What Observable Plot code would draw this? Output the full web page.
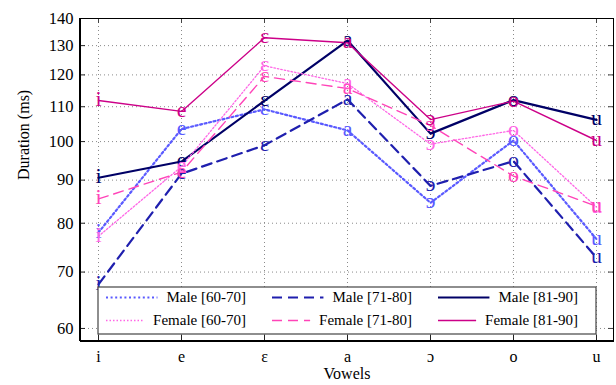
<!DOCTYPE html>
<html>
<head>
<meta charset="utf-8">
<script src="https://cdn.jsdelivr.net/npm/d3@7"></script>
<script src="https://cdn.jsdelivr.net/npm/@observablehq/plot@0.6"></script>
<style>
  html, body { margin: 0; padding: 0; background: white; }
  #chart { width: 616px; height: 385px; }
</style>
</head>
<body>
<div id="chart"></div>
<script>
const vowels = ["i", "e", "ɛ", "a", "ɔ", "o", "u"];
const yTicks = [60, 70, 80, 90, 100, 110, 120, 130, 140];

const seriesNames = ["Male [60-70]", "Male [71-80]", "Male [81-90]", "Female [60-70]", "Female [71-80]", "Female [81-90]"];
const male6070   = [78.0, 103.5, 109.2, 103.1, 84.6, 100.3, 76.6];
const male7180   = [67.7, 91.6, 99.0, 112.2, 88.6, 94.8, 72.8];
const male8190   = [90.6, 94.7, 111.8, 131.8, 102.2, 112.0, 106.1];
const female6070 = [77.2, 93.4, 123.0, 117.2, 99.3, 103.1, 83.6];
const female7180 = [85.5, 92.0, 119.5, 115.6, 104.5, 91.0, 83.8];
const female8190 = [111.9, 108.6, 132.8, 131.0, 106.2, 111.7, 100.3];
const seriesValues = [male6070, male7180, male8190, female6070, female7180, female8190];

// styles (separate from data)
const colors = ["#5a5aff", "#1f1fae", "#000066", "#ff66e6", "#ff44b8", "#cc0088"];
const widths = [2.2, 2.2, 2.2, 1.3, 1.4, 1.4];
const dashes = ["2,2.6", "10,6", null, "1.5,2", "10,6", null];

const rows = seriesNames.map((name, k) =>
  vowels.map((v, i) => ({series: name, vowel: v, value: seriesValues[k][i]}))
);

const W = 616, H = 385, mL = 80, mR = 3, mT = 18, mB = 44;
const pw = W - mL - mR, ph = H - mT - mB;
const font = "'Liberation Serif', 'Times New Roman', 'DejaVu Serif', serif";

const marks = [
  Plot.ruleY(yTicks, {y: d => d, stroke: "#8a8a8a", strokeDasharray: "1,3", strokeWidth: 1}),
  Plot.ruleX(vowels, {x: d => d, stroke: "#8a8a8a", strokeDasharray: "1,3", strokeWidth: 1}),
  // inward ticks
  Plot.tickY(yTicks, {y: d => d, insetRight: pw - 5, stroke: "#222"}),
  Plot.tickY(yTicks, {y: d => d, insetLeft: pw - 5, stroke: "#444"}),
  Plot.tickX(vowels, {x: d => d, insetTop: ph - 6, stroke: "#222"}),
  Plot.tickX(vowels, {x: d => d, insetBottom: ph - 5, stroke: "#444"}),
];
rows.forEach((r, k) => {
  marks.push(Plot.line(r, {
    x: "vowel", y: "value", stroke: colors[k], strokeWidth: widths[k],
    strokeDasharray: dashes[k] || undefined, curve: "linear"
  }));
});
rows.forEach((r, k) => {
  marks.push(Plot.text(r, {
    x: "vowel", y: "value", text: "vowel", fill: colors[k], fontSize: 22,
    fontFamily: font, dy: -1.5
  }));
});
marks.push(
  Plot.frame({stroke: "black", strokeWidth: 1}),
  Plot.axisX({tickSize: 0, tickPadding: 9, fontSize: 16, label: null}),
  Plot.axisY({ticks: yTicks, tickSize: 0, tickPadding: 7, fontSize: 16.5, tickFormat: d => String(d), label: null}),
  Plot.text(["Vowels"], {frameAnchor: "bottom", dy: 37, fontSize: 16, fontFamily: font, fill: "black"}),
  Plot.text(["Duration (ms)"], {frameAnchor: "left", dx: -57, rotate: -90, fontSize: 16, fontFamily: font, fill: "black"})
);

const plot = Plot.plot({
  width: W, height: H,
  marginLeft: mL, marginRight: mR, marginTop: mT, marginBottom: mB,
  x: {type: "point", domain: vowels, padding: 0.2},
  y: {type: "log", domain: [57.9, 140]},
  style: {fontFamily: font, fontSize: "16px", background: "white", color: "black"},
  marks
});
document.getElementById("chart").appendChild(plot);

const svg = d3.select(plot);
// thicker left and bottom axis lines
svg.append("line").attr("x1", mL).attr("x2", mL).attr("y1", mT).attr("y2", H - mB)
  .attr("stroke", "black").attr("stroke-width", 2);
svg.append("line").attr("x1", mL).attr("x2", W - mR).attr("y1", H - mB).attr("y2", H - mB)
  .attr("stroke", "black").attr("stroke-width", 2);

// legend inside the plot, positioned with the plot's own x scale
const xs = plot.scale("x");
const lx0 = xs.apply("i"), lx1 = xs.apply("u");
const lg = svg.append("g");
const lgTop = 287, lgBot = 334;
lg.append("rect").attr("x", lx0).attr("y", lgTop).attr("width", lx1 - lx0).attr("height", lgBot - lgTop)
  .attr("fill", "white").attr("stroke", "#444").attr("stroke-width", 1.2);
const colW = (lx1 - lx0) / 3;
seriesNames.forEach((name, k) => {
  const col = k % 3, row = Math.floor(k / 3);
  const cx = lx0 + col * colW;
  const cy = row === 0 ? 297.5 : 320.5;
  const t = lg.append("text").attr("x", cx + 148).attr("y", cy).attr("dy", "0.33em")
    .attr("text-anchor", "end").attr("font-family", font).attr("font-size", 15)
    .attr("fill", "black").text(name);
  const tw = t.node().getComputedTextLength();
  const textStart = cx + 148 - tw;
  const sampleEnd = Math.min(cx + 8 + 54, textStart - 9);
  lg.append("line").attr("x1", cx + 8).attr("x2", sampleEnd).attr("y1", cy).attr("y2", cy)
    .attr("stroke", colors[k]).attr("stroke-width", widths[k])
    .attr("stroke-dasharray", dashes[k]);
});
</script>
</body>
</html>
